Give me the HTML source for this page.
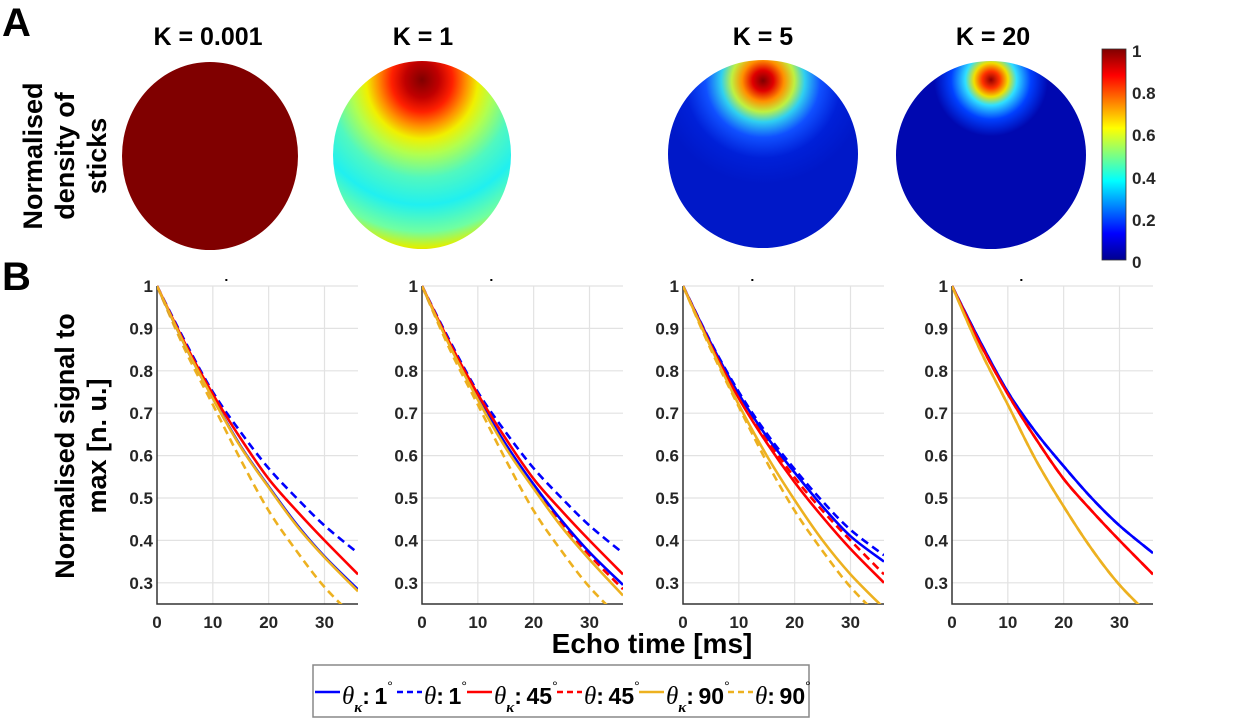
<!DOCTYPE html>
<html><head><meta charset="utf-8"><style>
html,body{margin:0;padding:0;background:#fff;}
svg{display:block;font-family:"Liberation Sans",sans-serif;}
</style></head><body>
<svg id="fig" width="1240" height="720" viewBox="0 0 1240 720" xmlns="http://www.w3.org/2000/svg">
<defs>
<linearGradient id="jet" x1="0" y1="1" x2="0" y2="0">
<stop offset="0" stop-color="#00008f"/><stop offset="0.125" stop-color="#0000ff"/><stop offset="0.375" stop-color="#00ffff"/><stop offset="0.625" stop-color="#ffff00"/><stop offset="0.875" stop-color="#ff0000"/><stop offset="1" stop-color="#800000"/>
</linearGradient>
<radialGradient id="g2" cx="0.5" cy="0.1" r="0.95">
<stop offset="0" stop-color="#800000"/><stop offset="0.1" stop-color="#c00000"/><stop offset="0.18" stop-color="#ff2000"/><stop offset="0.26" stop-color="#ff9000"/><stop offset="0.33" stop-color="#f0f000"/><stop offset="0.42" stop-color="#b0ff50"/><stop offset="0.55" stop-color="#50f8c0"/><stop offset="0.7" stop-color="#20f0f0"/><stop offset="0.85" stop-color="#70ffa0"/><stop offset="0.94" stop-color="#e0f000"/><stop offset="1" stop-color="#ff9000"/>
</radialGradient>
<radialGradient id="g3" cx="0.5" cy="0.11" r="0.55">
<stop offset="0" stop-color="#800000"/><stop offset="0.1" stop-color="#e00000"/><stop offset="0.2" stop-color="#ff9000"/><stop offset="0.3" stop-color="#c0f040"/><stop offset="0.4" stop-color="#30d0f0"/><stop offset="0.55" stop-color="#1050ff"/><stop offset="0.75" stop-color="#0020d8"/><stop offset="1" stop-color="#0018c8"/>
</radialGradient>
<radialGradient id="g4" cx="0.5" cy="0.1" r="0.3">
<stop offset="0" stop-color="#900000"/><stop offset="0.15" stop-color="#ff3000"/><stop offset="0.3" stop-color="#f0e000"/><stop offset="0.45" stop-color="#30e0ff"/><stop offset="0.7" stop-color="#0040ff"/><stop offset="1" stop-color="#0008b0"/>
</radialGradient>
</defs>

<text x="2" y="36" font-size="40" font-weight="bold">A</text>
<text x="2" y="290" font-size="40" font-weight="bold">B</text>
<g transform="translate(65,156) rotate(-90)" font-size="27" font-weight="bold" text-anchor="middle">
<text x="0" y="-23">Normalised</text><text x="0" y="9">density of</text><text x="0" y="41">sticks</text>
</g>

<g>
<text x="208" y="45" font-size="25" font-weight="bold" text-anchor="middle">K = 0.001</text>
<ellipse cx="210" cy="156" rx="88" ry="94" fill="#800000"/>
</g>
<g>
<text x="423" y="45" font-size="25" font-weight="bold" text-anchor="middle">K = 1</text>
<ellipse cx="422" cy="155" rx="89" ry="94" fill="url(#g2)"/>
</g>
<g>
<text x="763" y="45" font-size="25" font-weight="bold" text-anchor="middle">K = 5</text>
<ellipse cx="763" cy="154" rx="95" ry="94" fill="url(#g3)"/>
</g>
<g>
<text x="993" y="45" font-size="25" font-weight="bold" text-anchor="middle">K = 20</text>
<ellipse cx="991" cy="155" rx="95" ry="94" fill="url(#g4)"/>
</g>

<g>
<rect x="1102" y="49" width="24" height="211" fill="url(#jet)" stroke="#333" stroke-width="0.8"/>
<g font-size="17" font-weight="bold" fill="#262626">
<text x="1132" y="57">1</text><text x="1132" y="99">0.8</text><text x="1132" y="141">0.6</text><text x="1132" y="184">0.4</text><text x="1132" y="226">0.2</text><text x="1132" y="268">0</text>
</g>
</g>

<g transform="translate(80,446) rotate(-90)" font-size="27" font-weight="bold" text-anchor="middle">
<text x="0" y="-6">Normalised signal to</text><text x="0" y="26">max [n. u.]</text>
</g>
<text x="652" y="653" font-size="28" font-weight="bold" text-anchor="middle">Echo time [ms]</text>
<g id="plots"></g>

<g>
<rect x="313" y="665" width="496" height="52" fill="#fff" stroke="#888" stroke-width="1.5"/>
<g id="leg" font-weight="bold" font-size="23"></g>
</g>
</svg>
<script>
const times = [0,5,10,15,20,25,30,36];
const xTicks = [0,10,20,30];
const yTicks = [0.3,0.4,0.5,0.6,0.7,0.8,0.9,1];
const yTickLabels = ["0.3","0.4","0.5","0.6","0.7","0.8","0.9","1"];
const panelNames = ["k0001","k1","k5","k20"];
const seriesNames = ["kappa-1","theta-1","kappa-45","theta-45","kappa-90","theta-90"];
const seriesColors = ["#0000ff","#0000ff","#ff0000","#ff0000","#edb120","#edb120"];
const seriesDashed = [false,true,false,true,false,true];
const p1 = [
 [1,0.86,0.736,0.622,0.527,0.438,0.362,0.284],
 [1,0.87,0.75,0.655,0.57,0.50,0.435,0.37],
 [1,0.865,0.745,0.64,0.545,0.47,0.40,0.32],
 [1,0.86,0.735,0.621,0.526,0.437,0.361,0.282],
 [1,0.86,0.735,0.62,0.525,0.435,0.36,0.28],
 [1,0.85,0.72,0.59,0.47,0.375,0.29,0.21]];
const p2 = [
 [1,0.86,0.737,0.627,0.532,0.447,0.372,0.295],
 [1,0.87,0.75,0.655,0.57,0.50,0.435,0.37],
 [1,0.865,0.745,0.64,0.545,0.47,0.40,0.32],
 [1,0.86,0.735,0.623,0.528,0.442,0.365,0.285],
 [1,0.858,0.732,0.618,0.522,0.432,0.355,0.27],
 [1,0.85,0.72,0.59,0.47,0.375,0.29,0.21]];
const p3 = [
 [1,0.865,0.745,0.645,0.56,0.48,0.41,0.35],
 [1,0.867,0.75,0.652,0.568,0.492,0.425,0.365],
 [1,0.86,0.735,0.63,0.537,0.455,0.38,0.30],
 [1,0.863,0.742,0.64,0.548,0.47,0.40,0.32],
 [1,0.855,0.72,0.60,0.495,0.40,0.32,0.24],
 [1,0.85,0.715,0.585,0.47,0.375,0.29,0.21]];
const p4 = [
 [1,0.87,0.75,0.655,0.575,0.50,0.435,0.37],
 [1,0.87,0.75,0.655,0.575,0.50,0.435,0.37],
 [1,0.865,0.745,0.64,0.545,0.47,0.40,0.32],
 [1,0.865,0.745,0.64,0.545,0.47,0.40,0.32],
 [1,0.85,0.72,0.59,0.48,0.38,0.295,0.215],
 [1,0.85,0.72,0.59,0.48,0.38,0.295,0.215]];
const panels = [p1,p2,p3,p4];

const NS="http://www.w3.org/2000/svg";
const origins=[157,422,683,952];
const W=201, yTop=286, yBot=604;
function el(t,a,p){const e=document.createElementNS(NS,t);for(const k in a)e.setAttribute(k,a[k]);p.appendChild(e);return e;}
const plots=document.getElementById('plots');
const defs=document.querySelector('defs');
panels.forEach((data,pi)=>{
  const x0=origins[pi];
  const xs=v=>x0+v/36*W;
  const ys=v=>yTop+(1-v)/0.75*(yBot-yTop);
  const g=el('g',{},plots);
  
  
  const cp=el('clipPath',{id:'c'+pi},defs);
  el('rect',{x:x0,y:yTop-4,width:W,height:yBot-yTop+4},cp);
  xTicks.forEach(t=>{
    if(t>0){const l=el('line',{x1:xs(t),x2:xs(t),y1:yTop,y2:yBot,stroke:'#e2e2e2','stroke-width':1.2},g);
    }
    const tx=el('text',{x:xs(t),y:yBot+24,'font-size':17,'font-weight':'bold',fill:'#262626','text-anchor':'middle'},g);
    tx.textContent=t;
    
    
  });
  yTicks.forEach((t,i)=>{
    const l=el('line',{x1:x0,x2:x0+W,y1:ys(t),y2:ys(t),stroke:'#e2e2e2','stroke-width':1.2},g);
    
    
    const tx=el('text',{x:x0-4,y:ys(t)+6,'font-size':17,'font-weight':'bold',fill:'#262626','text-anchor':'end'},g);
    tx.textContent=yTickLabels[i];
    
    
  });
  el('path',{d:`M${x0},${yTop} V${yBot} H${x0+W}`,fill:'none',stroke:'#333','stroke-width':1.5},g);
  el('rect',{x:x0+W*0.34,y:yTop-7,width:2,height:2,fill:'#000'},g);
  const order=[1,3,5,0,2,4];
  order.forEach(si=>{
    const vals=data[si];
    const P=times.map((t,i)=>[xs(t),ys(vals[i])]);
    let d=`M${P[0][0]},${P[0][1]}`;
    for(let i=0;i<P.length-1;i++){
      const p0=P[Math.max(0,i-1)],p1=P[i],p2=P[i+1],p3=P[Math.min(P.length-1,i+2)];
      const c1=[p1[0]+(p2[0]-p0[0])/6,p1[1]+(p2[1]-p0[1])/6];
      const c2=[p2[0]-(p3[0]-p1[0])/6,p2[1]-(p3[1]-p1[1])/6];
      d+=` C${c1[0]},${c1[1]} ${c2[0]},${c2[1]} ${p2[0]},${p2[1]}`;
    }
    const a={d:d,fill:'none',stroke:seriesColors[si],'stroke-width':2.6,'clip-path':`url(#c${pi})`};
    if(seriesDashed[si])a['stroke-dasharray']='8 5';
    const pth=el('path',a,g);
    
    
  });
});
const leg=document.getElementById('leg');
const lx=[315,397,467,557,639,728];
const lbl=["1","1","45","45","90","90"];
lx.forEach((x,i)=>{
  const g=el('g',{},leg);
  
  
  const a={x1:x,x2:x+25,y1:692,y2:692,stroke:seriesColors[i],'stroke-width':2.6};
  if(seriesDashed[i])a['stroke-dasharray']='6 4';
  el('line',a,g);
  const t=el('text',{x:x+27,y:704},g);
  const th=el('tspan',{'font-family':'Liberation Serif, serif','font-style':'italic','font-weight':'normal','font-size':25},t);
  th.textContent='θ';
  if(!seriesDashed[i]){
    const k=el('tspan',{'font-family':'Liberation Serif, serif','font-style':'italic','font-size':15,dy:8},t);
    k.textContent='κ';
    const c=el('tspan',{dy:-8},t);c.textContent=':'+'\u2009'+lbl[i];
  } else {const c=el('tspan',{},t);c.textContent=':'+'\u2009'+lbl[i];}
  const dg=el('tspan',{'font-size':14,'font-weight':'normal',dy:-13},t);dg.textContent='°';
});
</script>
</body></html>
